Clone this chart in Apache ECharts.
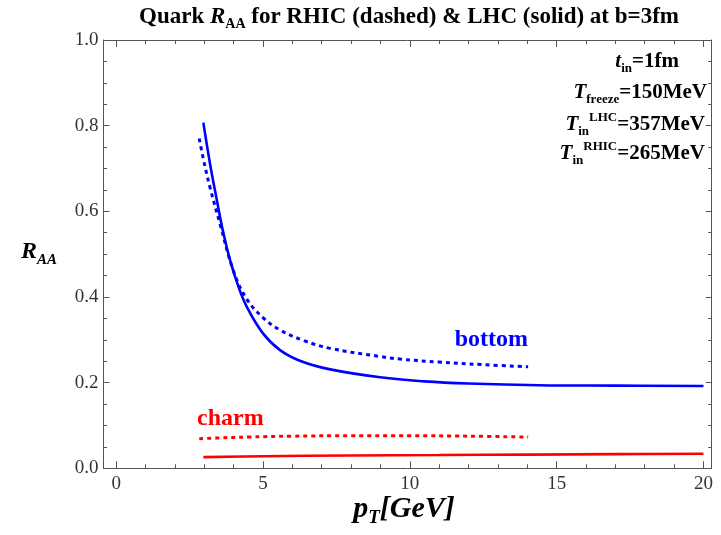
<!DOCTYPE html>
<html>
<head>
<meta charset="utf-8">
<script src="https://cdn.jsdelivr.net/npm/echarts@6/dist/echarts.min.js"></script>
<style>
    html, body { margin: 0; padding: 0; background: #fff; }
    #main { width: 721px; height: 535px; }
</style>
</head>
<body>
<div id="main"></div>
<script type="text/javascript">

    // axis ticks
    var xMajor = [0, 5, 10, 15, 20];
    var xMinor = [0, 1, 2, 3, 4, 5, 6, 7, 8, 9, 10, 11, 12, 13, 14, 15, 16, 17, 18, 19, 20];

    // bottom quark, LHC (solid)
    var bLhcPt = [2.97, 3.2, 3.43, 3.65, 3.88, 4.15, 4.45, 5.0, 5.58, 6.3, 7.29, 8.99, 10.5, 12, 14.4, 17, 20];
    var bLhcR  = [0.807, 0.71, 0.626, 0.55, 0.486, 0.427, 0.377, 0.315, 0.276, 0.250, 0.231, 0.2125, 0.203, 0.198, 0.194, 0.193, 0.192];

    // bottom quark, RHIC (dashed)
    var bRhicPt = [2.83, 2.97, 3.2, 3.54, 3.99, 4.45, 5.0, 5.58, 6.4, 7.29, 8.99, 9.67, 11, 12.5, 14.03];
    var bRhicR  = [0.770, 0.722, 0.655, 0.570, 0.462, 0.395, 0.352, 0.323, 0.298, 0.280, 0.261, 0.255, 0.248, 0.242, 0.237];

    // charm quark, RHIC (dashed)
    var cRhicPt = [2.83, 3.5, 4.5, 6, 8, 10, 12, 14.03];
    var cRhicR  = [0.069, 0.071, 0.073, 0.075, 0.076, 0.076, 0.075, 0.073];

    // charm quark, LHC (solid)
    var cLhcPt = [2.97, 5, 8, 11, 14, 17, 20];
    var cLhcR  = [0.026, 0.028, 0.030, 0.031, 0.032, 0.033, 0.034];

    var SERIF = "'Liberation Serif', 'DejaVu Serif', serif";

    function pairs(xs, ys) {
        var out = [];
        for (var i = 0; i < xs.length; i++) out.push([xs[i], ys[i]]);
        return out;
    }

    function lineSeries(xs, ys, color, dashed) {
        return {
            type: 'line',
            xAxisIndex: 0,
            yAxisIndex: 0,
            data: pairs(xs, ys),
            showSymbol: false,
            smooth: 0.4,
            silent: true,
            lineStyle: {
                color: color,
                width: dashed ? 3 : 2.6,
                type: dashed ? [4, 4] : 'solid',
                cap: 'butt'
            }
        };
    }

    function xAx(pos, ticks, len, showLine, showLabel) {
        return {
            type: 'value',
            position: pos,
            min: -0.43,
            max: 20.28,
            splitLine: { show: false },
            axisLine: { show: showLine, onZero: false, lineStyle: { color: '#555', width: 1 } },
            axisTick: { show: true, inside: true, length: len, customValues: ticks, lineStyle: { color: '#555' } },
            axisLabel: {
                show: showLabel, customValues: xMajor, margin: 6,
                fontFamily: SERIF, fontSize: 19, color: '#333'
            }
        };
    }

    function yAx(pos, showLabel) {
        return {
            type: 'value',
            position: pos,
            min: 0,
            max: 1,
            interval: 0.2,
            splitLine: { show: false },
            axisLine: { show: true, onZero: false, lineStyle: { color: '#555', width: 1 } },
            axisTick: { show: true, inside: true, length: 6, lineStyle: { color: '#555' } },
            minorTick: { show: true, splitNumber: 4, length: 3.5, lineStyle: { color: '#555' } },
            axisLabel: {
                show: showLabel, margin: 5,
                fontFamily: SERIF, fontSize: 19, color: '#333',
                formatter: function (v) { return v.toFixed(1); }
            }
        };
    }

    function rs(extra) {
        var o = { fontFamily: SERIF, fontWeight: 'bold' };
        for (var k in extra) o[k] = extra[k];
        return o;
    }

    function note(x, y, text) {
        return {
            type: 'text', x: x, y: y, silent: true,
            style: {
                text: text, fill: '#000', align: 'right', verticalAlign: 'middle',
                rich: {
                    n: rs({ fontSize: 21 }),
                    i: rs({ fontSize: 21, fontStyle: 'italic' }),
                    s: rs({ fontSize: 13, padding: [14, 0, 0, 0] }),
                    p: rs({ fontSize: 13, padding: [0, 0, 14, 0] })
                }
            }
        };
    }

    var chart = echarts.init(document.getElementById('main'));
    chart.setOption({
        animation: false,
        backgroundColor: '#fff',
        grid: { left: 103.5, right: 9.3, top: 40, bottom: 66.7, containLabel: false },
        xAxis: [
            xAx('bottom', xMajor, 7, true, true),
            xAx('bottom', xMinor, 4, false, false),
            xAx('top', xMajor, 7, true, false),
            xAx('top', xMinor, 4, false, false)
        ],
        yAxis: [yAx('left', true), yAx('right', false)],
        series: [
            lineSeries(bRhicPt, bRhicR, '#0000ff', true),
            lineSeries(bLhcPt, bLhcR, '#0000ff', false),
            lineSeries(cRhicPt, cRhicR, '#ff0000', true),
            lineSeries(cLhcPt, cLhcR, '#ff0000', false)
        ],
        graphic: [
            {
                type: 'text', x: 409, y: 17, silent: true,
                style: {
                    text: '{n|Quark }{i|R}{s|AA}{n| for RHIC (dashed) & LHC (solid) at b=3fm}',
                    align: 'center', verticalAlign: 'middle', fill: '#000',
                    rich: {
                        n: rs({ fontSize: 23 }),
                        i: rs({ fontSize: 23, fontStyle: 'italic' }),
                        s: rs({ fontSize: 14, padding: [14, 0, 0, 0] })
                    }
                }
            },
            {
                type: 'text', x: 21, y: 252, silent: true,
                style: {
                    text: '{i|R}{s|AA}',
                    align: 'left', verticalAlign: 'middle', fill: '#000',
                    rich: {
                        i: rs({ fontSize: 24, fontStyle: 'italic' }),
                        s: rs({ fontSize: 15, fontStyle: 'italic', padding: [16, 0, 0, 0] })
                    }
                }
            },
            {
                type: 'text', x: 404, y: 509, silent: true,
                style: {
                    text: '{i|p}{s|T}{i|[GeV]}',
                    align: 'center', verticalAlign: 'middle', fill: '#000',
                    rich: {
                        i: rs({ fontSize: 30, fontStyle: 'italic' }),
                        s: rs({ fontSize: 19, fontStyle: 'italic', padding: [18, 0, 0, 0] })
                    }
                }
            },
            note(679, 62, '{i|t}{s|in}{n|=1fm}'),
            note(707, 93, '{i|T}{s|freeze}{n|=150MeV}'),
            note(705, 125, '{i|T}{s|in}{p|LHC}{n|=357MeV}'),
            note(705, 154, '{i|T}{s|in}{p|RHIC}{n|=265MeV}'),
            {
                type: 'text', x: 528, y: 340, silent: true,
                style: {
                    text: 'bottom', align: 'right', verticalAlign: 'middle', fill: '#0000ff',
                    fontFamily: SERIF, fontWeight: 'bold', fontSize: 24
                }
            },
            {
                type: 'text', x: 197, y: 419, silent: true,
                style: {
                    text: 'charm', align: 'left', verticalAlign: 'middle', fill: '#ff0000',
                    fontFamily: SERIF, fontWeight: 'bold', fontSize: 24
                }
            }
        ]
    });
</script>
</body>
</html>
